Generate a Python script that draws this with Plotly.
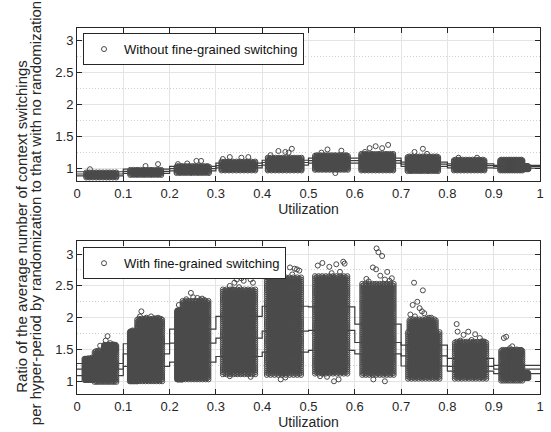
import plotly.graph_objects as go

# ---------------- data ----------------
BIN_EDGES = [0.0, 0.1, 0.2, 0.3, 0.4, 0.5, 0.6, 0.7, 0.8, 0.9, 1.0]
X_TICKS = [0, 0.1, 0.2, 0.3, 0.4, 0.5, 0.6, 0.7, 0.8, 0.9, 1.0]
X_TICK_LABELS = ["0", "0.1", "0.2", "0.3", "0.4", "0.5", "0.6", "0.7", "0.8", "0.9", "1"]
Y_TICKS = [1, 1.5, 2, 2.5, 3]
Y_TICK_LABELS = ["1", "1.5", "2", "2.5", "3"]

# step lines per utilization bin (upper / middle / lower)
TOP_HIGH = [0.95, 0.99, 1.035, 1.085, 1.13, 1.165, 1.165, 1.10, 1.075, 1.05]
TOP_MID = [0.915, 0.955, 1.00, 1.045, 1.095, 1.125, 1.125, 1.07, 1.045, 1.03]
TOP_LOW = [0.885, 0.925, 0.965, 1.01, 1.055, 1.085, 1.085, 1.035, 1.01, 1.005]

BOT_HIGH = [1.28, 1.59, 1.82, 2.02, 2.18, 2.17, 1.90, 1.57, 1.36, 1.25]
BOT_MID = [1.19, 1.43, 1.60, 1.68, 1.79, 1.80, 1.61, 1.40, 1.235, 1.19]
BOT_LOW = [1.09, 1.235, 1.30, 1.39, 1.46, 1.485, 1.43, 1.24, 1.16, 1.12]

# dense cores of the point clouds: x extent and the y levels they cover
TOP_XLO = [0.020, 0.115, 0.215, 0.312, 0.412, 0.514, 0.614, 0.714, 0.814, 0.914, 0.955]
TOP_XHI = [0.085, 0.182, 0.285, 0.385, 0.485, 0.585, 0.683, 0.780, 0.880, 0.962, 0.975]
TOP_ROWS = [
    [0.86, 0.89, 0.92],
    [0.90, 0.93, 0.96],
    [0.93, 0.96, 0.99, 1.02],
    [0.97, 1.00, 1.03, 1.06, 1.09],
    [0.97, 1.00, 1.03, 1.06, 1.09, 1.12, 1.15],
    [0.98, 1.01, 1.04, 1.07, 1.10, 1.13, 1.16, 1.19],
    [0.97, 1.00, 1.03, 1.06, 1.09, 1.12, 1.15, 1.18, 1.21],
    [0.96, 0.99, 1.02, 1.05, 1.08, 1.11, 1.14, 1.17],
    [0.97, 1.00, 1.03, 1.06, 1.09, 1.12],
    [0.97, 1.00, 1.03, 1.06, 1.09, 1.12],
    [0.99, 1.02],
]
TOP_OUT_X = [0.028, 0.148, 0.175, 0.218, 0.238, 0.258, 0.268, 0.315, 0.330, 0.355, 0.370,
             0.418, 0.435, 0.450, 0.457, 0.464, 0.528, 0.541, 0.558, 0.571, 0.622, 0.632,
             0.645, 0.659, 0.672, 0.729, 0.747, 0.756, 0.824, 0.864]
TOP_OUT_Y = [0.99, 1.04, 1.07, 1.07, 1.08, 1.12, 1.12, 1.15, 1.18, 1.17, 1.18,
             1.21, 1.275, 1.26, 1.25, 1.31, 1.25, 1.30, 0.93, 1.28, 1.26, 1.32,
             1.35, 1.32, 1.37, 1.26, 1.31, 1.23, 1.17, 1.17]

BOT_XLO = [0.016, 0.038, 0.058, 0.114, 0.130, 0.216, 0.228, 0.315, 0.410, 0.514, 0.616,
           0.715, 0.718, 0.816, 0.916, 0.962]
BOT_XHI = [0.036, 0.085, 0.085, 0.130, 0.184, 0.228, 0.284, 0.385, 0.484, 0.584, 0.684,
           0.783, 0.775, 0.884, 0.962, 0.975]
BOT_ROWS = [
    [1.02, 1.07, 1.12, 1.17, 1.22, 1.27, 1.32],
    [0.99, 1.04, 1.09, 1.14, 1.19, 1.24, 1.29, 1.34, 1.39, 1.44],
    [1.49, 1.54],
    [1.00, 1.05, 1.10, 1.15, 1.20, 1.25, 1.30, 1.35, 1.40, 1.45, 1.50, 1.55, 1.60, 1.65, 1.70, 1.75],
    [1.00, 1.05, 1.10, 1.15, 1.20, 1.25, 1.30, 1.35, 1.40, 1.45, 1.50, 1.55, 1.60, 1.65, 1.70,
     1.75, 1.80, 1.85, 1.90, 1.95],
    [1.03, 1.08, 1.13, 1.18, 1.23, 1.28, 1.33, 1.38, 1.43, 1.48, 1.53, 1.58, 1.63, 1.68, 1.73,
     1.78, 1.83, 1.88, 1.93, 1.98, 2.03, 2.08],
    [1.03, 1.08, 1.13, 1.18, 1.23, 1.28, 1.33, 1.38, 1.43, 1.48, 1.53, 1.58, 1.63, 1.68, 1.73,
     1.78, 1.83, 1.88, 1.93, 1.98, 2.03, 2.08, 2.13, 2.18, 2.23],
    [1.11, 1.16, 1.21, 1.26, 1.31, 1.36, 1.41, 1.46, 1.51, 1.56, 1.61, 1.66, 1.71, 1.76, 1.81,
     1.86, 1.91, 1.96, 2.01, 2.06, 2.11, 2.16, 2.21, 2.26, 2.31, 2.36, 2.41],
    [1.10, 1.15, 1.20, 1.25, 1.30, 1.35, 1.40, 1.45, 1.50, 1.55, 1.60, 1.65, 1.70, 1.75, 1.80,
     1.85, 1.90, 1.95, 2.00, 2.05, 2.10, 2.15, 2.20, 2.25, 2.30, 2.35, 2.40, 2.45, 2.50, 2.55,
     2.60],
    [1.12, 1.17, 1.22, 1.27, 1.32, 1.37, 1.42, 1.47, 1.52, 1.57, 1.62, 1.67, 1.72, 1.77, 1.82,
     1.87, 1.92, 1.97, 2.02, 2.07, 2.12, 2.17, 2.22, 2.27, 2.32, 2.37, 2.42, 2.47, 2.52, 2.57,
     2.62],
    [1.10, 1.15, 1.20, 1.25, 1.30, 1.35, 1.40, 1.45, 1.50, 1.55, 1.60, 1.65, 1.70, 1.75, 1.80,
     1.85, 1.90, 1.95, 2.00, 2.05, 2.10, 2.15, 2.20, 2.25, 2.30, 2.35, 2.40, 2.45, 2.50],
    [1.04, 1.09, 1.14, 1.19, 1.24, 1.29, 1.34, 1.39, 1.44, 1.49, 1.54, 1.59, 1.64, 1.69, 1.74],
    [1.79, 1.84, 1.89, 1.94],
    [1.04, 1.09, 1.14, 1.19, 1.24, 1.29, 1.34, 1.39, 1.44, 1.49, 1.54, 1.59],
    [1.01, 1.06, 1.11, 1.16, 1.21, 1.26, 1.31, 1.36, 1.41, 1.46],
    [1.05, 1.10],
]
BOT_OUT_X = [0.066, 0.062, 0.072, 0.050, 0.031, 0.038, 0.078, 0.045, 0.024,
             0.139, 0.136, 0.131, 0.120, 0.160, 0.175, 0.150, 0.168,
             0.257, 0.246, 0.251, 0.260, 0.220, 0.270, 0.275, 0.236, 0.266,
             0.320, 0.325, 0.340, 0.345, 0.355, 0.360, 0.365, 0.370, 0.375, 0.330, 0.380, 0.330, 0.375,
             0.350, 0.336,
             0.415, 0.430, 0.445, 0.460, 0.470, 0.475, 0.480, 0.440, 0.450, 0.425, 0.465,
             0.520, 0.530, 0.545, 0.560, 0.575, 0.578, 0.525, 0.540, 0.555, 0.565, 0.530, 0.550,
             0.568,
             0.647, 0.651, 0.659, 0.639, 0.646, 0.625, 0.665, 0.670, 0.680, 0.640, 0.665, 0.630,
             0.655, 0.675,
             0.728, 0.747, 0.725, 0.735, 0.740, 0.745, 0.720, 0.750, 0.760, 0.765, 0.755, 0.730,
             0.820, 0.822, 0.835, 0.845, 0.860, 0.870, 0.828, 0.852, 0.876,
             0.922, 0.927, 0.940, 0.935, 0.950, 0.958]
BOT_OUT_Y = [1.71, 1.64, 1.60, 1.56, 1.37, 1.37, 1.58, 1.48, 1.36,
             2.10, 2.02, 1.86, 1.80, 2.02, 2.00, 2.00, 1.99,
             2.66, 2.39, 2.32, 2.31, 2.20, 2.30, 2.28, 2.29, 2.28,
             2.33, 2.33, 2.55, 2.60, 2.62, 2.58, 2.65, 2.70, 2.60, 2.50, 2.55, 1.08, 1.07,
             2.48, 2.44,
             2.78, 2.75, 2.80, 2.79, 2.77, 2.76, 2.74, 1.03, 1.06, 2.66, 2.68,
             2.82, 2.86, 2.80, 2.84, 2.88, 2.85, 1.08, 1.07, 1.00, 1.03, 1.12, 2.70,
             2.72,
             3.09, 3.03, 2.97, 2.79, 2.76, 2.61, 2.60, 2.72, 2.62, 1.03, 1.00, 2.57,
             2.66, 2.58,
             2.55, 2.43, 2.20, 2.25, 2.15, 2.10, 2.05, 2.07, 2.00, 2.00, 1.98, 2.02,
             1.90, 1.78, 1.73, 1.78, 1.74, 1.68, 1.64, 1.65, 1.63,
             1.68, 1.70, 1.55, 1.52, 1.50, 1.49]

# where the overlapping circles sit inside one core row (fractions of width / row offsets)
COL_FRAC_A = [0.0, 0.111, 0.222, 0.333, 0.444, 0.556, 0.667, 0.778, 0.889, 1.0]
COL_FRAC_B = [0.056, 0.167, 0.278, 0.389, 0.5, 0.611, 0.722, 0.833, 0.944]
TOP_SUBROWS = [0.0, 0.01, 0.02]
BOT_SUBROWS = [0.0, 0.0167, 0.0333]

# ---------------- styling ----------------
FONT = "Liberation Sans, Arial, sans-serif"
PT_COLOR = "#4a4a4a"
LINE_COLOR = "#3c3c3c"
AX_COLOR = "#262626"


def cloud_points(xlo, xhi, rows_list, subrows, out_x, out_y):
    xs, ys = [], []
    for lo, hi, rows in zip(xlo, xhi, rows_list):
        k = 0
        for y in rows:
            for d in subrows:
                cols = COL_FRAC_A if k % 2 == 0 else COL_FRAC_B
                k += 1
                for f in cols:
                    xs.append(lo + f * (hi - lo))
                    ys.append(y + d)
    xs += list(out_x)
    ys += list(out_y)
    return xs, ys


fig = go.Figure()

panels = [
    ("y", "x", [TOP_HIGH, TOP_MID, TOP_LOW], TOP_XLO, TOP_XHI, TOP_ROWS, TOP_SUBROWS,
     TOP_OUT_X, TOP_OUT_Y, "Without fine-grained switching", "legend"),
    ("y2", "x2", [BOT_HIGH, BOT_MID, BOT_LOW], BOT_XLO, BOT_XHI, BOT_ROWS, BOT_SUBROWS,
     BOT_OUT_X, BOT_OUT_Y, "With fine-grained switching", "legend2"),
]

for yax, xax, steps, xlo, xhi, rows, subrows, ox, oy, name, leg in panels:
    for s in steps:
        fig.add_trace(go.Scatter(
            x=BIN_EDGES, y=list(s) + [s[-1]], mode="lines", line_shape="hv",
            line=dict(color=LINE_COLOR, width=1.2), xaxis=xax, yaxis=yax,
            showlegend=False, hoverinfo="skip"))
    px, py = cloud_points(xlo, xhi, rows, subrows, ox, oy)
    fig.add_trace(go.Scatter(
        x=px, y=py, mode="markers", name=name, xaxis=xax, yaxis=yax, legend=leg,
        marker=dict(symbol="circle-open", size=5, color=PT_COLOR,
                    line=dict(width=1, color=PT_COLOR))))

axis_common = dict(
    showline=True, linecolor=AX_COLOR, linewidth=1, mirror="ticks",
    ticks="inside", ticklen=5, tickcolor=AX_COLOR, tickwidth=1,
    showgrid=True, gridcolor="#e4e4e4", gridwidth=1, zeroline=False,
    tickfont=dict(family=FONT, size=13, color="#262626"),
)
xaxis_common = dict(axis_common, range=[0, 1], tickvals=X_TICKS, ticktext=X_TICK_LABELS,
                    title=dict(text="Utilization", font=dict(family=FONT, size=14, color="#262626"),
                               standoff=2))
yaxis_common = dict(axis_common, range=[0.8, 3.2], tickvals=Y_TICKS, ticktext=Y_TICK_LABELS,
                    minor=dict(dtick=0.25, tick0=0.75, showgrid=True, gridcolor="#cfcfcf",
                               griddash="1px,2px", gridwidth=1, ticks=""))

legend_common = dict(bgcolor="white", bordercolor=AX_COLOR, borderwidth=1,
                     font=dict(family=FONT, size=13, color="#111111"),
                     xanchor="left", yanchor="top", itemsizing="trace")

fig.update_layout(
    width=551, height=432,
    margin=dict(l=77, r=7, t=28, b=35),
    paper_bgcolor="white", plot_bgcolor="white",
    xaxis=dict(xaxis_common, domain=[0, 1], anchor="y"),
    yaxis=dict(yaxis_common, domain=[0.581, 1.0], anchor="x"),
    xaxis2=dict(xaxis_common, domain=[0, 1], anchor="y2"),
    yaxis2=dict(yaxis_common, domain=[0.0, 0.417], anchor="x2"),
    legend=dict(legend_common, x=0.013, y=0.986),
    legend2=dict(legend_common, x=0.013, y=0.401),
    annotations=[
        dict(text="Ratio of the average number of context switchings", textangle=-90,
             xref="paper", yref="paper", x=(21 - 77) / 467, y=0.458, showarrow=False,
             xanchor="center", yanchor="middle",
             font=dict(family=FONT, size=15, color="#262626")),
        dict(text="per hyper-period by randomization to that with no randomization", textangle=-90,
             xref="paper", yref="paper", x=(35 - 77) / 467, y=0.495, showarrow=False,
             xanchor="center", yanchor="middle",
             font=dict(family=FONT, size=15, color="#262626")),
    ],
)

fig.write_html("out.html")
